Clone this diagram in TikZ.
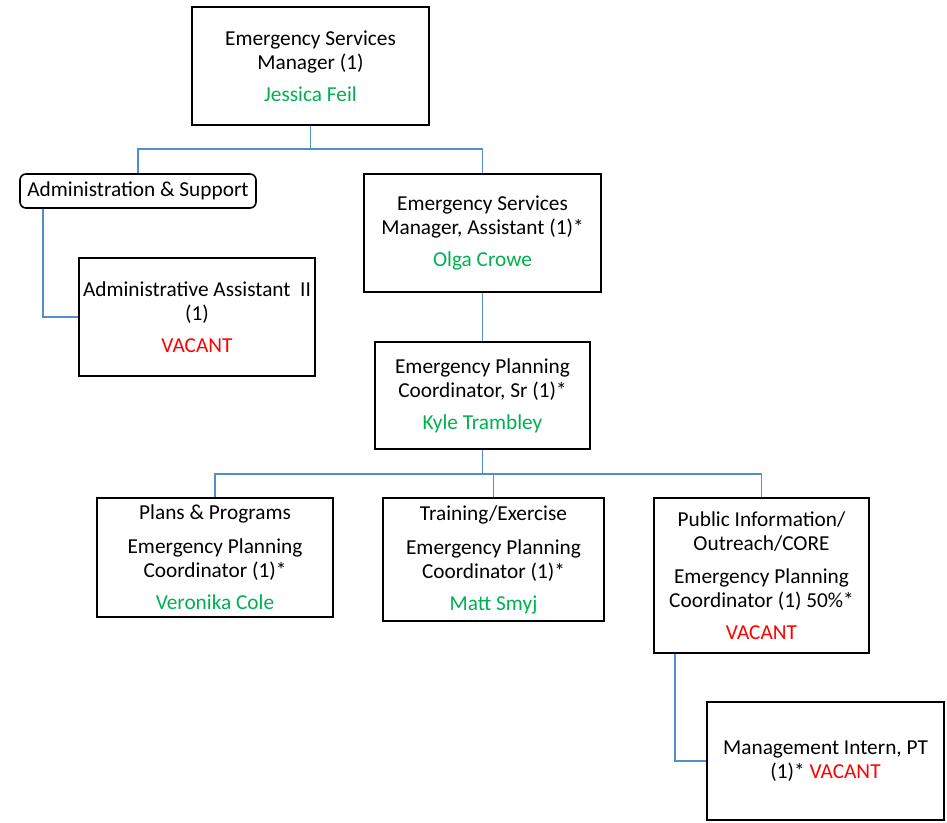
\documentclass[tikz,border=0pt]{standalone}
\usepackage{fontspec}
\setmainfont{Carlito}
\definecolor{namegreen}{RGB}{0,176,80}
\definecolor{vacred}{RGB}{255,0,0}
\definecolor{linkblue}{RGB}{84,141,204}
\newcommand{\who}[1]{\textcolor{namegreen}{#1}}
\newcommand{\vac}{\textcolor{vacred}{VACANT}}
\begin{document}
\begin{tikzpicture}[x=1pt,y=-1pt,
  post/.style={draw=black, line width=1.6pt, rectangle, inner sep=0pt,
    align=center, font=\fontsize{21.3}{24}\selectfont},
  group/.style={post, rounded corners=6pt},
  link/.style={draw=linkblue, line width=1.8pt}]
\useasboundingbox (0,0) rectangle (947,822);

% positions
\node[post, minimum width=237pt, minimum height=118pt] (esm) at (310.5,66)
  {Emergency Services\\Manager (1)\\[8pt]\who{Jessica Feil}};
\node[group, minimum width=236pt, minimum height=34pt] (adm) at (138,191)
  {Administration \& Support};
\node[post, minimum width=236pt, minimum height=118pt] (aa) at (197,317)
  {Administrative Assistant\ \ II\\(1)\\[8pt]\vac};
\node[post, minimum width=237pt, minimum height=118pt] (esa) at (482.5,233)
  {Emergency Services\\Manager, Assistant (1)*\\[8pt]\who{Olga Crowe}};
\node[post, minimum width=215pt, minimum height=107pt] (epc) at (482.5,395.5)
  {Emergency Planning\\Coordinator, Sr (1)*\\[8pt]\who{Kyle Trambley}};
\node[post, minimum width=236pt, minimum height=119pt] (plans) at (215,557.5)
  {Plans \& Programs\\[10pt]Emergency Planning\\Coordinator (1)*\\[8pt]\who{Veronika Cole}};
\node[post, minimum width=221pt, minimum height=123pt] (train) at (493.5,559.5)
  {Training/Exercise\\[10pt]Emergency Planning\\Coordinator (1)*\\[8pt]\who{Matt Smyj}};
\node[post, minimum width=215pt, minimum height=155pt] (pio) at (761.5,575.5)
  {Public Information/\\Outreach/CORE\\[9pt]Emergency Planning\\Coordinator (1) 50\%*\\[8pt]\vac};
\node[post, minimum width=237pt, minimum height=118pt] (intern) at (825.5,761)
  {Management Intern, PT\\(1)* \vac};

% junctions
\coordinate (j1) at (310.5,149);
\coordinate (j2) at (482.5,474);

% connectors
\draw[link] (esm.south) -- (j1);
\draw[link] (adm.north) -- (adm.north |- j1) -- (esa.north |- j1) -- (esa.north);
\draw[link] ([xshift=24pt]adm.south west) |- (aa.west);
\draw[link] (esa.south) -- (epc.north);
\draw[link] (epc.south) -- (j2);
\draw[link] (plans.north) -- (plans.north |- j2) -- (pio.north |- j2) -- (pio.north);
\draw[link] (train.north) -- (train.north |- j2);
\draw[link] ([xshift=22pt]pio.south west) |- (intern.west);
\end{tikzpicture}
\end{document}
